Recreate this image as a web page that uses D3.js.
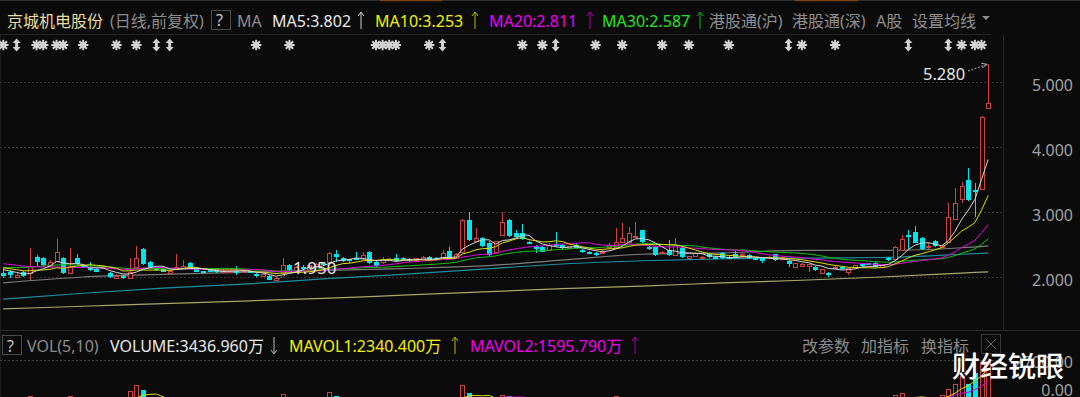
<!DOCTYPE html>
<html><head><meta charset="utf-8">
<script src="https://cdn.jsdelivr.net/npm/d3@7"></script>
<style>html,body{margin:0;padding:0;background:#0b0b0b;overflow:hidden}svg{display:block}</style>
</head><body><svg id="c" width="1080" height="397"></svg>
<script>
// ---------------- DATA ----------------
const opens = [2.057,2.08,2.005,2.07,2.06,2.31,2.29,2.175,2.245,2.29,
 2.06,2.29,2.185,2.145,2.12,2.14,2.06,1.98,2.015,1.99,
 2.16,2.425,2.225,2.135,2.125,2.06,2.125,2.145,2.21,2.135,
 2.09,2.11,2.12,2.08,2.08,2.10,2.09,2.09,2.04,2.01,
 2.015,1.96,2.057,2.185,2.11,2.16,2.13,2.17,2.21,2.235,
 2.35,2.30,2.27,2.30,2.28,2.39,2.225,2.225,2.27,2.29,
 2.30,2.28,2.26,2.28,2.31,2.30,2.29,2.40,2.30,2.39,
 2.877,2.56,2.605,2.53,2.39,2.646,2.877,2.67,2.67,2.54,
 2.48,2.465,2.415,2.51,2.49,2.45,2.50,2.42,2.39,2.365,
 2.37,2.465,2.465,2.54,2.54,2.63,2.72,2.465,2.465,2.37,
 2.415,2.34,2.45,2.30,2.33,2.29,2.35,2.31,2.375,2.31,
 2.36,2.335,2.34,2.30,2.29,2.29,2.35,2.28,2.245,2.16,
 2.17,2.175,2.16,2.06,2.065,2.135,2.16,2.08,2.16,2.195,
 2.21,2.22,2.16,2.30,2.27,2.415,2.646,2.70,2.595,2.457,
 2.554,2.467,2.543,2.888,3.195,3.49,3.34,3.355,4.60];
const highs = [2.134,2.11,2.06,2.09,2.44,2.34,2.31,2.26,2.58,2.31,
 2.44,2.35,2.20,2.235,2.14,2.17,2.08,2.04,2.03,2.29,
 2.47,2.44,2.25,2.15,2.13,2.11,2.35,2.26,2.23,2.15,
 2.10,2.12,2.14,2.12,2.11,2.17,2.12,2.10,2.06,2.06,
 2.03,2.00,2.29,2.20,2.17,2.18,2.20,2.22,2.23,2.38,
 2.415,2.31,2.28,2.39,2.39,2.40,2.24,2.31,2.29,2.355,
 2.31,2.29,2.30,2.33,2.33,2.31,2.415,2.465,2.37,2.90,
 3.005,2.75,2.62,2.55,2.56,3.005,2.90,2.72,2.815,2.55,
 2.49,2.47,2.52,2.69,2.51,2.48,2.52,2.43,2.40,2.38,
 2.41,2.52,2.75,2.825,2.775,2.84,2.73,2.48,2.47,2.40,
 2.57,2.595,2.47,2.33,2.38,2.32,2.36,2.32,2.38,2.32,
 2.40,2.37,2.35,2.31,2.30,2.33,2.36,2.31,2.26,2.22,
 2.21,2.20,2.17,2.13,2.07,2.17,2.17,2.14,2.19,2.21,
 2.22,2.23,2.19,2.31,2.47,2.646,2.72,2.79,2.61,2.52,
 2.57,2.50,3.143,3.364,3.466,3.67,3.44,4.48,5.28];
const lows = [1.99,1.99,1.98,2.00,1.96,2.16,2.15,2.16,2.23,2.05,
 2.05,2.18,2.15,2.10,2.07,2.13,1.98,1.97,1.97,1.98,
 2.14,2.18,2.13,2.10,2.07,2.05,2.12,2.14,2.14,2.07,
 2.07,2.07,2.06,2.07,2.07,2.03,2.08,2.06,2.00,2.00,
 1.955,1.95,2.05,2.10,2.10,2.12,2.12,2.16,2.17,2.22,
 2.235,2.23,2.21,2.27,2.27,2.20,2.16,2.20,2.25,2.24,
 2.27,2.23,2.25,2.27,2.25,2.27,2.28,2.27,2.29,2.38,
 2.56,2.55,2.46,2.33,2.38,2.63,2.62,2.61,2.57,2.51,
 2.365,2.38,2.40,2.465,2.43,2.44,2.43,2.365,2.36,2.33,
 2.36,2.45,2.45,2.53,2.53,2.62,2.52,2.42,2.33,2.36,
 2.33,2.33,2.30,2.29,2.32,2.28,2.30,2.28,2.28,2.28,
 2.30,2.32,2.28,2.27,2.21,2.28,2.25,2.27,2.16,2.15,
 2.16,2.08,2.10,2.05,2.005,2.12,2.11,2.03,2.15,2.16,
 2.18,2.15,2.15,2.25,2.26,2.40,2.425,2.52,2.41,2.425,
 2.46,2.46,2.53,2.87,3.134,3.17,2.93,3.34,4.58];
const closes = [2.015,2.03,2.03,2.015,2.17,2.235,2.185,2.225,2.38,2.06,
 2.17,2.195,2.16,2.11,2.08,2.15,1.995,2.02,1.99,2.08,
 2.30,2.195,2.145,2.11,2.08,2.09,2.16,2.175,2.145,2.08,
 2.085,2.08,2.08,2.10,2.095,2.095,2.10,2.07,2.01,2.04,
 1.96,1.98,2.185,2.108,2.15,2.13,2.18,2.20,2.18,2.365,
 2.31,2.245,2.255,2.28,2.34,2.21,2.175,2.28,2.28,2.25,
 2.28,2.24,2.29,2.31,2.26,2.28,2.365,2.28,2.35,2.877,
 2.57,2.595,2.475,2.34,2.55,2.85,2.635,2.62,2.58,2.52,
 2.43,2.39,2.50,2.49,2.44,2.47,2.44,2.40,2.375,2.34,
 2.39,2.50,2.535,2.595,2.67,2.63,2.535,2.43,2.34,2.39,
 2.34,2.49,2.31,2.32,2.365,2.31,2.31,2.29,2.29,2.295,
 2.31,2.355,2.29,2.28,2.25,2.31,2.26,2.30,2.20,2.21,
 2.20,2.195,2.11,2.12,2.03,2.16,2.12,2.135,2.18,2.175,
 2.19,2.16,2.185,2.26,2.455,2.585,2.62,2.53,2.425,2.477,
 2.477,2.488,2.928,3.134,3.40,3.185,3.32,4.46,4.677];
// closes before the first visible day (seed for the moving averages)
const seedCloses = [1.98,2.00,2.02,1.99,2.01,2.00,1.98,2.02,2.01,1.99,
 2.22,2.26,2.30,2.28,2.31,2.27,2.25,2.29,2.26,2.26,
 2.20,2.18,2.17,2.19,2.16,2.15,2.14,2.13,2.14,2.14];
// volume (万股)
const volumes = [420,380,350,400,853,650,520,430,700,720,
 830,560,400,380,350,300,480,360,330,1100,
 1456,1200,620,420,380,350,560,480,450,400,
 300,320,350,280,300,380,300,320,420,380,
 520,450,960,700,480,420,500,450,400,1090,
 850,560,420,480,620,760,520,560,380,420,
 360,400,380,450,420,380,620,700,520,1456,
 1013,700,650,620,680,900,850,560,600,420,
 450,430,520,600,420,360,420,380,350,400,
 360,520,830,800,700,640,760,480,520,380,
 560,640,520,360,420,340,380,320,420,300,
 380,320,400,300,360,320,450,300,480,420,
 380,400,420,460,480,380,400,450,360,340,
 320,420,400,480,907,1000,700,773,650,700,
 650,900,1250,1500,1900,1500,2100,2665,3437];
// long moving averages read at sample days
const maLongIdx = [0,12,24,36,48,60,72,84,96,108,120,132,144,148];
const ma60Vals  = [1.91,2.00,2.04,2.07,2.10,2.13,2.17,2.26,2.35,2.37,2.41,2.41,2.45,2.48];
const ma120Vals = [1.66,1.75,1.83,1.89,1.97,2.04,2.12,2.20,2.25,2.28,2.29,2.30,2.35,2.37];
const ma250Vals = [1.51,1.55,1.59,1.63,1.67,1.72,1.77,1.82,1.86,1.91,1.95,2.00,2.06,2.08];
const priceTicks = [2, 3, 4, 5];
const priceTickLabels = ["2.000","3.000","4.000","5.000"];
const volTickLabels = ["2700.00","0.00"];
const asteriskIdx = [0,5,6,8,9,12,17,20,38,43,56,57,58,59,64,78,81,89,93,99,103,109,120,125,144,146,147];
const doubleArrowIdx = [2,23,25,66,83,118,136,142];
const maLegend = [
  {t:"MA5:3.802", c:"#e8e8e8", a:"#cfcfcf", x:272, ax:361},
  {t:"MA10:3.253", c:"#f2f200", a:"#b8b800", x:375, ax:475},
  {t:"MA20:2.811", c:"#f000f0", a:"#b000b0", x:489, ax:590},
  {t:"MA30:2.587", c:"#22e622", a:"#10b010", x:602, ax:700}
];
const stockName = "京城机电股份";
const lowLabel = "1.950", highLabel = "5.280";

// ---------------- SETUP ----------------
const FONT = "'Noto Sans','Noto Sans CJK SC',sans-serif";
const svg = d3.select("#c");
const N = closes.length;
const x = d3.scaleLinear().domain([0, N - 1]).range([3.3, 988.2]);
const y = d3.scaleLinear().domain([2, 5]).range([277, 82]);
const yv = d3.scaleLinear().domain([0, 4000]).range([412, 337]);
const UP = "#cc4444", DOWN = "#00e4ec", BG = "#0b0b0b";

svg.append("rect").attr("width",1080).attr("height",397).attr("fill",BG);
const defs = svg.append("defs");
defs.append("clipPath").attr("id","pc").append("rect").attr("x",0).attr("y",35).attr("width",1003).attr("height",295);
defs.append("clipPath").attr("id","vc").append("rect").attr("x",0).attr("y",361).attr("width",1003).attr("height",40);

// frame lines
svg.append("line").attr("x1",0).attr("x2",1080).attr("y1",0.5).attr("y2",0.5).attr("stroke","#2e2e2e");
[[380,442],[795,858]].forEach(s=>svg.append("line").attr("x1",s[0]).attr("x2",s[1]).attr("y1",0.5).attr("y2",0.5).attr("stroke","#7a4012").attr("stroke-width",1.5));
svg.append("line").attr("x1",0).attr("x2",991).attr("y1",34.5).attr("y2",34.5).attr("stroke","#262626");
svg.append("line").attr("x1",1003.5).attr("x2",1003.5).attr("y1",35).attr("y2",330).attr("stroke","#262626");
svg.append("line").attr("x1",0.5).attr("x2",0.5).attr("y1",35).attr("y2",397).attr("stroke","#1c1c1c");
svg.append("line").attr("x1",0).attr("x2",1080).attr("y1",330.5).attr("y2",330.5).attr("stroke","#2a2a2a");
svg.append("line").attr("x1",0).attr("x2",1003).attr("y1",360.5).attr("y2",360.5).attr("stroke","#3a3a3a").attr("stroke-dasharray","2,2");

// gridlines & axis labels
const gg = svg.append("g");
priceTicks.forEach((p,k)=>{
  const yy = Math.round(y(p)) + 0.5;
  gg.append("line").attr("x1",0).attr("x2",1003).attr("y1",yy).attr("y2",yy)
    .attr("stroke","#353535").attr("stroke-dasharray","2,2");
  gg.append("text").attr("x",1073).attr("y",y(p)+3).attr("dy","0.35em").attr("text-anchor","end")
    .attr("font-family",FONT).attr("font-size",16).attr("fill","#a2a2a2").text(priceTickLabels[k]);
});

// ---------------- PRICE PANEL ----------------
const pg = svg.append("g").attr("clip-path","url(#pc)");
const lineL = d3.line().x((d,i)=>x(maLongIdx[i])).y(d=>y(d)).curve(d3.curveMonotoneX);
pg.append("path").attr("d",lineL(ma250Vals)).attr("fill","none").attr("stroke","#a8a868").attr("stroke-width",1.2);
pg.append("path").attr("d",lineL(ma120Vals)).attr("fill","none").attr("stroke","#1b8fa0").attr("stroke-width",1.2);
pg.append("path").attr("d",lineL(ma60Vals)).attr("fill","none").attr("stroke","#7c7c7c").attr("stroke-width",1.2);

// candles
const cg = pg.append("g").attr("shape-rendering","crispEdges");
closes.forEach((c,i)=>{
  const o = opens[i], up = c >= o, px = Math.round(x(i));
  const col = up ? UP : DOWN;
  cg.append("line").attr("x1",px+0.5).attr("x2",px+0.5).attr("y1",y(highs[i])).attr("y2",y(lows[i])).attr("stroke",col);
  const t = y(Math.max(o,c)), b = y(Math.min(o,c));
  if (up) {
    cg.append("rect").attr("x",px-1.5).attr("y",Math.round(t)+0.5).attr("width",4).attr("height",Math.max(1,Math.round(b)-Math.round(t)))
      .attr("fill",BG).attr("stroke",col);
  } else {
    cg.append("rect").attr("x",px-2).attr("y",Math.round(t)).attr("width",5).attr("height",Math.max(1.5,Math.round(b)-Math.round(t)))
      .attr("fill",col);
  }
});

// moving averages of closes
const all = seedCloses.concat(closes);
function ma(n){ return closes.map((_,i)=>{ const j=i+seedCloses.length; let s=0,k=0; for(let q=j-n+1;q<=j;q++){ if(q>=0){s+=all[q];k++;} } return s/k; }); }
const lineS = d3.line().x((d,i)=>x(i)).y(d=>y(d));
[[30,"#10c010"],[20,"#e000e0"],[10,"#e0e000"],[5,"#d8d8d8"]].forEach(([n,col])=>{
  pg.append("path").attr("d",lineS(ma(n))).attr("fill","none").attr("stroke",col).attr("stroke-width",1);
});

// annotations: low and high
const iLow = d3.minIndex(lows), iHigh = d3.maxIndex(highs);
svg.append("line").attr("x1",x(iLow)+2).attr("y1",y(lows[iLow])-1).attr("x2",292).attr("y2",271)
  .attr("stroke","#9a9a9a").attr("stroke-dasharray","2,1");
svg.append("text").attr("x",293).attr("y",268).attr("dy","0.35em").attr("font-family",FONT).attr("font-size",17)
  .attr("fill","#e4e4e4").text(lowLabel);
svg.append("text").attr("x",923).attr("y",74).attr("dy","0.35em").attr("font-family",FONT).attr("font-size",16.5)
  .attr("fill","#e4e4e4").text(highLabel);
const hx = x(iHigh)-1, hy = y(highs[iHigh])+0.5;
svg.append("line").attr("x1",968).attr("y1",71).attr("x2",hx).attr("y2",hy).attr("stroke","#a8a8a8").attr("stroke-dasharray","2,1.5");
svg.append("path").attr("d",`M${hx-6},${hy-1}L${hx},${hy}L${hx-5},${hy+3.5}`).attr("fill","none").attr("stroke","#a8a8a8");

// event markers
const mg = svg.append("g").attr("stroke","#d2d2d2").attr("fill","#d2d2d2");
asteriskIdx.forEach(i=>{
  const cx = x(i), cy = 45;
  for(let a=0;a<4;a++){
    const ang = a*Math.PI/4, dx=Math.cos(ang)*5.2, dy=Math.sin(ang)*5.2;
    mg.append("line").attr("x1",cx-dx).attr("y1",cy-dy).attr("x2",cx+dx).attr("y2",cy+dy).attr("stroke-width",2);
  }
  mg.append("circle").attr("cx",cx).attr("cy",cy).attr("r",3).attr("stroke","none");
});
doubleArrowIdx.forEach(i=>{
  const cx = x(i), cy = 45;
  mg.append("path").attr("stroke","none").attr("d",
    `M${cx},${cy-6.5}L${cx+4},${cy-2}L${cx+1.5},${cy-2}L${cx+1.5},${cy+2}L${cx+4},${cy+2}L${cx},${cy+6.5}L${cx-4},${cy+2}L${cx-1.5},${cy+2}L${cx-1.5},${cy-2}L${cx-4},${cy-2}Z`);
});

// ---------------- HEADER ----------------
function txt(g, s, xx, yy, col, size){ return g.append("text").attr("x",xx).attr("y",yy).attr("font-family",FONT)
  .attr("font-size",size||16).attr("fill",col).text(s); }
function arrow(g, xx, y1, y2, col){ // y1 tail, y2 head
  const d = y2 < y1 ? 1 : -1;
  g.append("path").attr("d",`M${xx},${y1}L${xx},${y2}M${xx-3},${y2+4*d}L${xx},${y2}L${xx+3},${y2+4*d}`)
   .attr("fill","none").attr("stroke",col).attr("stroke-width",1);
}
const hg = svg.append("g");
txt(hg, stockName, 7, 26.5, "#e6dea2");
txt(hg, "(日线,前复权)", 110, 26.5, "#8c8c8c");
hg.append("rect").attr("x",211.5).attr("y",10.5).attr("width",19).attr("height",19).attr("fill","none").attr("stroke","#4a4a4a");
txt(hg, "?", 216, 26, "#c8c8c8");
txt(hg, "MA", 237, 26.5, "#8c8c8c");
maLegend.forEach(m=>{ txt(hg, m.t, m.x, 26.5, m.c); arrow(hg, m.ax, 29, 12, m.a); });
txt(hg, "港股通(沪)", 709, 26.5, "#8f8f8f");
txt(hg, "港股通(深)", 792, 26.5, "#8f8f8f");
txt(hg, "A股", 876, 26.5, "#8f8f8f");
txt(hg, "设置均线", 912, 26.5, "#8f8f8f");
hg.append("path").attr("d","M982,16L990,16L986,20Z").attr("fill","#8f8f8f");

// ---------------- VOLUME PANEL ----------------
const vg = svg.append("g").attr("clip-path","url(#vc)");
const vbg = vg.append("g").attr("shape-rendering","crispEdges");
volumes.forEach((v,i)=>{
  const up = closes[i] >= opens[i], px = Math.round(x(i)), top = Math.round(yv(v));
  if (up) vbg.append("rect").attr("x",px-1.5).attr("y",top+0.5).attr("width",4).attr("height",420-top).attr("fill",BG).attr("stroke",UP);
  else vbg.append("rect").attr("x",px-2).attr("y",top).attr("width",5).attr("height",420-top).attr("fill",DOWN);
});
function mav(n){ return volumes.map((_,i)=>d3.mean(volumes.slice(Math.max(0,i-n+1), i+1))); }
const lineV = d3.line().x((d,i)=>x(i)).y(d=>yv(d));
vg.append("path").attr("d",lineV(mav(10))).attr("fill","none").attr("stroke","#e000e0").attr("stroke-width",1);
vg.append("path").attr("d",lineV(mav(5))).attr("fill","none").attr("stroke","#e0e000").attr("stroke-width",1);

svg.append("text").attr("x",1073).attr("y",362).attr("dy","0.35em").attr("text-anchor","end").attr("font-family",FONT)
  .attr("font-size",16).attr("fill","#a2a2a2").text(volTickLabels[0]);

const vh = svg.append("g");
vh.append("rect").attr("x",2.5).attr("y",335.5).attr("width",19).attr("height",19).attr("fill","none").attr("stroke","#4a4a4a");
txt(vh, "?", 7, 351.5, "#c8c8c8");
txt(vh, "VOL(5,10)", 27, 351.5, "#8c8c8c");
txt(vh, "VOLUME:3436.960万", 110, 351.5, "#e8e8e8");
arrow(vh, 274, 337, 354, "#b8b8b8");
txt(vh, "MAVOL1:2340.400万", 289, 351.5, "#f2f200");
arrow(vh, 455, 354, 337, "#b8b800");
txt(vh, "MAVOL2:1595.790万", 470, 351.5, "#f000f0");
arrow(vh, 635, 354, 337, "#b000b0");
txt(vh, "改参数", 802, 351.5, "#8c8c8c");
txt(vh, "加指标", 861, 351.5, "#8c8c8c");
txt(vh, "换指标", 921, 351.5, "#8c8c8c");
vh.append("rect").attr("x",981.5).attr("y",334.5).attr("width",19).attr("height",19).attr("fill","none").attr("stroke","#3a3a3a");
vh.append("path").attr("d","M986,339L996,349M996,339L986,349").attr("stroke","#6a6a6a");

// watermark
svg.append("text").attr("x",952).attr("y",377).attr("font-family","'Noto Sans CJK SC',sans-serif").attr("font-size",28)
  .attr("font-weight",500).attr("fill","#ffffff").text("财经锐眼");
// bottom volume tick label (below the watermark)
svg.append("text").attr("x",1073).attr("y",396).attr("text-anchor","end").attr("font-family",FONT)
  .attr("font-size",16).attr("fill","#a2a2a2").text(volTickLabels[1]);
</script></body></html>
